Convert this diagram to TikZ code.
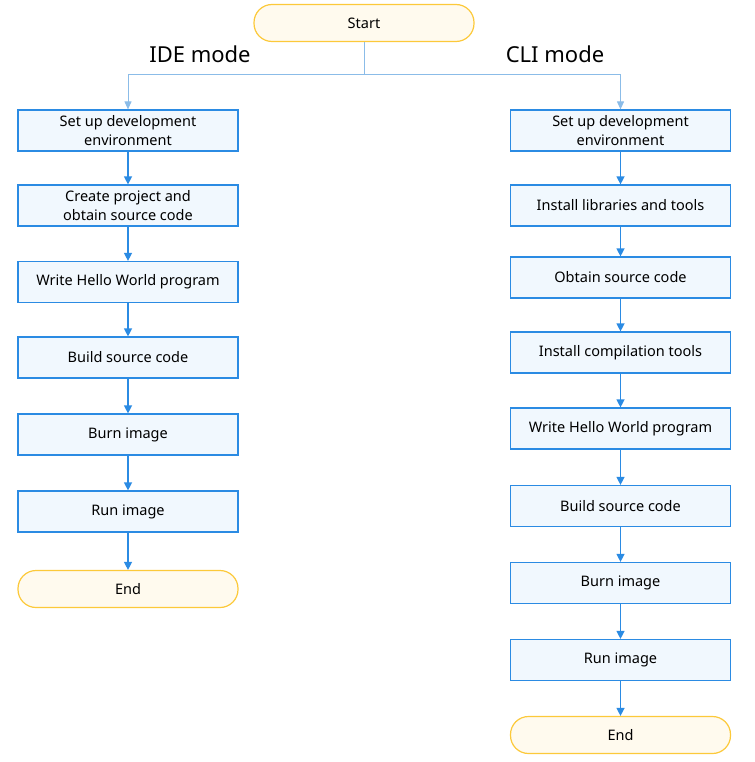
\documentclass[tikz,border=0pt]{standalone}
\usepackage{fontspec}
\setmainfont{Noto Sans}
\usetikzlibrary{arrows.meta}
\usetikzlibrary{positioning}
\usetikzlibrary{calc}

\definecolor{boxfill}{HTML}{F1F8FE}
\definecolor{boxline}{HTML}{2B8BE3}
\definecolor{termfill}{HTML}{FFFAEE}
\definecolor{termline}{HTML}{FCC93A}
\definecolor{splitline}{HTML}{8BBCE8}

\tikzset{
    stepbox/.style={draw=boxline, fill=boxfill, line width=1.2pt, minimum width=220pt, minimum height=41pt, align=center, font=\fontsize{14.5}{19}\selectfont, inner sep=0pt},
    termbox/.style={draw=termline, fill=termfill, line width=1.2pt, rounded corners=18pt, minimum width=220pt, minimum height=37pt, font=\fontsize{14.5}{19}\selectfont, inner sep=0pt},
    flow/.style={-{Triangle[length=8pt, width=8pt]}, draw=boxline, line width=1.3pt, color=boxline},
    split/.style={-{Triangle[length=8pt, width=7pt]}, draw=splitline, line width=1pt, color=splitline}
}

\begin{document}
\begin{tikzpicture}[x=1pt, y=-1pt]
            \useasboundingbox (0,0) rectangle (754,762);

            % Start
            \node[termbox] (start) at (364,23) {Start};
            \node[font=\fontsize{22}{26}\selectfont] (ide) at (200,54) {IDE mode};
            \node[font=\fontsize{22}{26}\selectfont] (cli) at (555,54) {CLI mode};

            % IDE mode column
            \node[stepbox] (l1) at (128,130.5) {Set up development\\environment};
            \node[stepbox] (l2) at (128,205.5) {Create project and\\obtain source code};
            \node[stepbox] (l3) at (128,282) {Write Hello World program};
            \node[stepbox] (l4) at (128,357.5) {Build source code};
            \node[stepbox] (l5) at (128,434.5) {Burn image};
            \node[stepbox] (l6) at (128,511.5) {Run image};
            \node[termbox] (lend) at (128,589) {End};

            % CLI mode column
            \node[stepbox] (r1) at (620.5,130.5) {Set up development\\environment};
            \node[stepbox] (r2) at (620.5,205.5) {Install libraries and tools};
            \node[stepbox] (r3) at (620.5,277.5) {Obtain source code};
            \node[stepbox] (r4) at (620.5,352.5) {Install compilation tools};
            \node[stepbox] (r5) at (620.5,428.5) {Write Hello World program};
            \node[stepbox] (r6) at (620.5,506) {Build source code};
            \node[stepbox] (r7) at (620.5,583) {Burn image};
            \node[stepbox] (r8) at (620.5,660) {Run image};
            \node[termbox] (rend) at (620.5,735) {End};

            % Split
            \coordinate (fork) at (364,75);
            \draw[splitline, line width=1pt] (start.south) -- (fork);
            \draw[split] (fork) -| (l1.north);
            \draw[split] (fork) -| (r1.north);

            % Arrows
            \foreach \a/\b in {l1/l2, l2/l3, l3/l4, l4/l5, l5/l6, l6/lend,
                               r1/r2, r2/r3, r3/r4, r4/r5, r5/r6, r6/r7, r7/r8, r8/rend} {
                \draw[flow] (\a.south) -- (\b.north);
            }

        \end{tikzpicture}
\end{document}
